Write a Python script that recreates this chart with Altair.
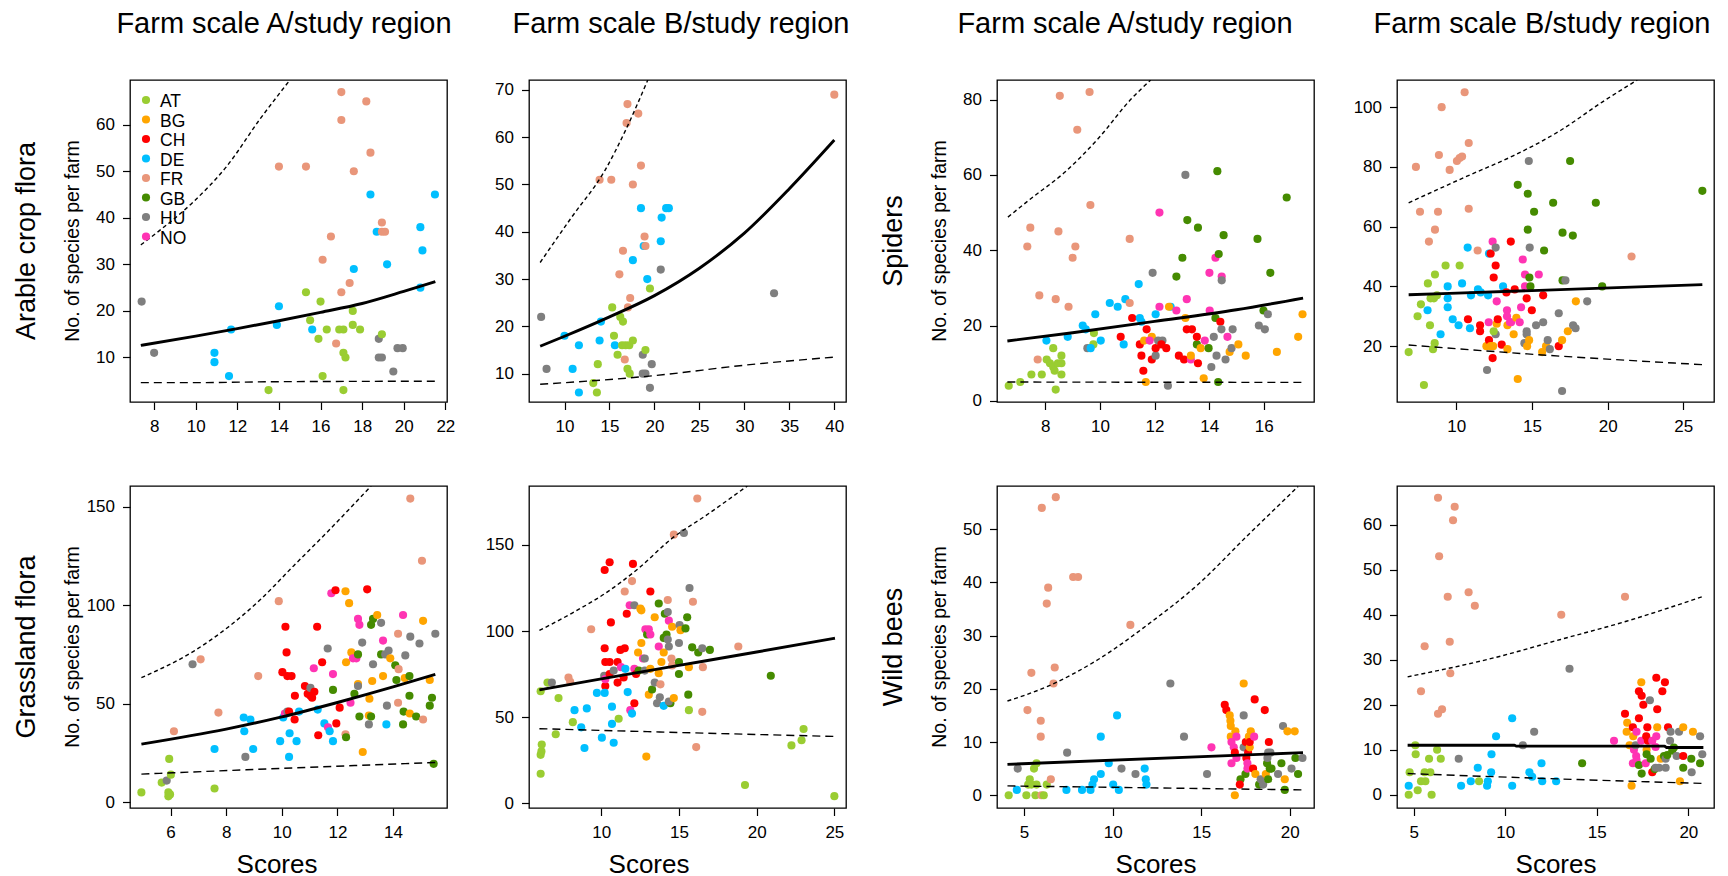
import altair as alt
import pandas as pd

COUNTRIES = ["AT", "BG", "CH", "DE", "FR", "GB", "HU", "NO"]
COLORS = ["#9ACD32", "#FFA500", "#FF0000", "#00BFFF", "#E9967A", "#458B00", "#7F7F7F", "#FF34B3"]

# ---------------- Arable crop flora, farm scale A ----------------
ARABLE_A_PTS = [
    ("HU", 7.4, 22), ("HU", 8.0, 11), ("DE", 10.9, 11), ("DE", 10.9, 9), ("DE", 11.6, 6), ("DE", 11.7, 16),
    ("AT", 13.5, 3), ("FR", 14.0, 51), ("DE", 13.9, 17), ("DE", 14.0, 21), ("FR", 15.3, 51), ("AT", 15.3, 24),
    ("AT", 15.5, 18), ("DE", 15.6, 16), ("AT", 15.9, 14), ("AT", 16.0, 22), ("FR", 16.1, 31), ("AT", 16.1, 6),
    ("AT", 16.3, 16), ("FR", 16.5, 36), ("FR", 16.75, 13), ("AT", 16.9, 16), ("AT", 17.1, 16), ("FR", 17.0, 67),
    ("FR", 17.0, 61), ("FR", 17.0, 24), ("AT", 17.1, 11), ("AT", 17.2, 10), ("AT", 17.1, 3), ("FR", 17.4, 26),
    ("AT", 17.55, 20), ("AT", 17.55, 17), ("DE", 17.6, 29), ("FR", 17.6, 50), ("AT", 17.9, 16), ("FR", 18.2, 65),
    ("FR", 18.4, 54), ("DE", 18.4, 45), ("DE", 18.7, 37), ("HU", 18.8, 14), ("HU", 18.8, 10), ("HU", 18.95, 10),
    ("FR", 18.95, 39), ("FR", 18.95, 37), ("FR", 19.1, 37), ("AT", 18.95, 15), ("DE", 19.2, 30), ("HU", 19.5, 7),
    ("HU", 19.7, 12), ("HU", 19.95, 12), ("DE", 20.8, 38), ("DE", 20.9, 33), ("DE", 20.8, 25), ("DE", 21.5, 45),
]
ARABLE_A_FIT = [(7.36, 12.6), (10, 14.6), (12, 16.2), (14, 17.9), (16, 19.7), (18, 21.6), (20, 24.2), (21.52, 26.3)]
ARABLE_A_UP = [(7.36, 34.2), (8.27, 37.3), (9.88, 43.4), (11.48, 51.0), (13.09, 61.2), (14.53, 69.6)]
ARABLE_A_LO = [(7.36, 4.6), (9.8, 4.6), (14, 4.8), (21.52, 4.9)]

# ---------------- Arable crop flora, farm scale B ----------------
ARABLE_B_PTS = [
    ("HU", 7.4, 22), ("HU", 8.0, 11), ("DE", 10.0, 18), ("DE", 10.9, 11), ("DE", 11.6, 16), ("DE", 11.6, 6),
    ("AT", 13.2, 8), ("AT", 13.6, 6), ("AT", 13.7, 12), ("FR", 13.9, 51), ("DE", 13.9, 17), ("DE", 14.05, 21),
    ("FR", 15.2, 51), ("AT", 15.3, 24), ("AT", 15.5, 18), ("DE", 15.6, 16), ("AT", 15.9, 14), ("AT", 16.2, 22),
    ("AT", 16.5, 21), ("FR", 16.1, 31), ("FR", 16.5, 36), ("AT", 16.4, 16), ("AT", 16.8, 16), ("AT", 17.2, 16),
    ("AT", 17.6, 17), ("FR", 16.7, 13), ("AT", 17.0, 11), ("AT", 17.25, 10), ("FR", 16.9, 63), ("FR", 17.0, 67),
    ("FR", 17.05, 24), ("FR", 17.3, 26), ("FR", 17.6, 50), ("DE", 17.6, 34), ("FR", 18.2, 65), ("FR", 18.5, 54),
    ("DE", 18.5, 45), ("DE", 18.8, 37), ("FR", 18.9, 39), ("FR", 19.0, 37), ("HU", 18.7, 14), ("HU", 18.7, 10),
    ("HU", 19.0, 10), ("AT", 19.0, 15), ("DE", 19.2, 30), ("AT", 19.5, 28), ("HU", 19.5, 7), ("HU", 19.7, 12),
    ("DE", 20.8, 43), ("DE", 20.7, 38), ("HU", 20.7, 32), ("DE", 21.3, 45), ("DE", 21.6, 45), ("HU", 33.3, 27),
    ("FR", 40.0, 69),
]
ARABLE_B_FIT = [(7.29, 15.8), (10, 17.9), (15, 22.0), (20, 26.5), (25, 32.3), (30, 39.7), (35, 49.1), (40, 59.4)]
ARABLE_B_UP = [(7.29, 33.5), (10.8, 43.1), (14.5, 53.0), (16.77, 61.4), (19.26, 72.1)]
ARABLE_B_LO = [(7.29, 7.75), (20.1, 9.6), (30.1, 11.8), (40, 13.5)]

# ---------------- Spiders, farm scale A ----------------
SPIDERS_A_PTS = [
    ("AT", 6.66, 4), ("AT", 7.08, 5), ("AT", 7.49, 7), ("AT", 7.87, 7), ("FR", 7.34, 41), ("FR", 7.45, 46),
    ("FR", 7.78, 28), ("FR", 7.72, 11), ("AT", 8.05, 11), ("AT", 8.17, 10), ("AT", 8.29, 14), ("AT", 8.29, 9),
    ("AT", 8.34, 8), ("AT", 8.38, 3), ("AT", 8.46, 10), ("AT", 8.59, 12), ("AT", 8.59, 7), ("AT", 8.59, 10),
    ("FR", 8.38, 27), ("FR", 8.53, 81), ("FR", 8.48, 45), ("FR", 8.85, 25), ("FR", 9.0, 38), ("FR", 9.1, 41),
    ("FR", 9.17, 72), ("FR", 9.62, 82), ("FR", 9.65, 52), ("DE", 8.04, 16), ("DE", 8.82, 17), ("DE", 9.37, 20),
    ("DE", 9.48, 19), ("AT", 9.78, 18), ("AT", 9.76, 15), ("DE", 9.83, 23), ("HU", 9.54, 14), ("DE", 9.66, 14),
    ("DE", 10.03, 16), ("DE", 10.36, 26), ("DE", 10.65, 25), ("DE", 10.93, 27), ("DE", 10.87, 15), ("FR", 11.09, 43),
    ("FR", 11.09, 26), ("CH", 10.76, 17), ("CH", 11.18, 22), ("DE", 11.42, 31), ("DE", 11.46, 22), ("DE", 11.52, 21),
    ("CH", 11.46, 15), ("CH", 11.52, 12), ("CH", 11.59, 8), ("CH", 11.71, 19), ("BG", 11.62, 16), ("BG", 11.68, 5),
    ("BG", 11.9, 17), ("NO", 11.82, 16), ("CH", 11.9, 11), ("HU", 11.93, 34), ("HU", 12.04, 12), ("DE", 12.04, 23),
    ("CH", 12.04, 14), ("HU", 12.13, 16), ("HU", 12.29, 16), ("CH", 12.25, 15), ("CH", 12.43, 14), ("NO", 12.18, 50),
    ("NO", 12.18, 25), ("HU", 12.49, 4), ("DE", 12.59, 25), ("BG", 12.53, 25), ("NO", 12.8, 24), ("HU", 13.13, 60),
    ("GB", 12.8, 33), ("GB", 13.02, 38), ("GB", 13.2, 48), ("NO", 13.18, 27), ("BG", 13.13, 22), ("CH", 12.89, 12),
    ("CH", 13.08, 11), ("CH", 13.18, 19), ("CH", 13.37, 19), ("NO", 13.33, 11), ("BG", 13.33, 12), ("GB", 13.59, 46),
    ("GB", 13.55, 15), ("CH", 13.55, 17), ("CH", 13.59, 10), ("BG", 13.69, 14), ("BG", 13.8, 6), ("NO", 13.84, 16),
    ("NO", 14.01, 34), ("NO", 14.02, 24), ("GB", 13.98, 14), ("HU", 14.08, 9), ("HU", 14.17, 17), ("GB", 14.23, 22),
    ("GB", 14.3, 61), ("NO", 14.23, 38), ("GB", 14.35, 39), ("GB", 14.33, 5), ("HU", 14.27, 12), ("CH", 14.41, 21),
    ("HU", 14.45, 19), ("NO", 14.46, 33), ("HU", 14.46, 32), ("GB", 14.53, 44), ("HU", 14.6, 11), ("NO", 14.67, 17),
    ("BG", 14.75, 13), ("HU", 14.82, 14), ("HU", 14.86, 19), ("BG", 15.07, 15), ("BG", 15.34, 12), ("GB", 15.77, 43),
    ("HU", 15.82, 20), ("HU", 16.04, 19), ("GB", 15.99, 24), ("HU", 16.15, 23), ("GB", 16.24, 34), ("BG", 16.48, 13),
    ("GB", 16.84, 54), ("BG", 17.26, 17), ("BG", 17.42, 23),
]
SPIDERS_A_FIT = [(6.61, 15.9), (9.0, 18.1), (12, 21.1), (15, 24.2), (17.44, 27.3)]
SPIDERS_A_UP = [(6.63, 48.8), (7.49, 53.8), (8.71, 60.7), (9.93, 69.6), (11.15, 80.2), (11.86, 85.2)]
SPIDERS_A_LO = [(6.61, 5.0), (17.44, 4.9)]

# ---------------- Spiders, farm scale B ----------------
SPIDERS_B_PTS = [
    ("AT", 6.85, 18), ("FR", 7.33, 80), ("AT", 7.44, 30), ("FR", 7.6, 65), ("AT", 7.66, 34), ("AT", 7.86, 7),
    ("AT", 8.12, 41), ("DE", 8.1, 32), ("FR", 8.19, 55), ("AT", 8.26, 27), ("AT", 8.3, 36), ("AT", 8.52, 36),
    ("AT", 8.46, 19), ("AT", 8.57, 21), ("AT", 8.59, 44), ("FR", 8.59, 59), ("AT", 8.72, 37), ("FR", 8.79, 65),
    ("FR", 8.85, 84), ("DE", 8.96, 24), ("FR", 9.03, 100), ("AT", 9.29, 47), ("DE", 9.43, 40), ("DE", 9.43, 36),
    ("DE", 9.43, 33), ("FR", 9.56, 79), ("DE", 9.76, 29), ("FR", 10.04, 82), ("FR", 10.22, 83), ("FR", 10.38, 83.5),
    ("AT", 10.22, 47), ("DE", 10.15, 27), ("DE", 10.38, 41), ("FR", 10.55, 105), ("FR", 10.82, 88), ("FR", 10.82, 66),
    ("DE", 10.75, 53), ("CH", 10.77, 29), ("DE", 10.97, 37), ("DE", 10.9, 26), ("CH", 11.57, 27), ("CH", 11.57, 25),
    ("DE", 11.43, 39), ("FR", 11.41, 52), ("DE", 11.61, 38), ("DE", 12.1, 37), ("DE", 12.16, 51), ("CH", 12.27, 51),
    ("BG", 11.99, 20), ("HU", 12.03, 12), ("CH", 12.16, 22), ("BG", 12.27, 20), ("BG", 12.43, 20), ("CH", 12.4, 16),
    ("NO", 12.14, 28), ("NO", 12.4, 55), ("HU", 12.6, 53), ("CH", 12.6, 47), ("CH", 12.47, 43), ("NO", 12.67, 35),
    ("HU", 12.6, 24), ("AT", 12.47, 25), ("BG", 12.67, 27.5), ("CH", 12.74, 29), ("CH", 13.0, 20.5), ("DE", 13.09, 40),
    ("BG", 13.38, 19), ("CH", 13.31, 38), ("NO", 13.35, 32), ("NO", 13.35, 30), ("BG", 13.38, 27), ("NO", 13.55, 28),
    ("CH", 13.6, 55), ("CH", 13.86, 39), ("NO", 13.62, 28), ("BG", 13.79, 24), ("BG", 13.97, 29.5), ("BG", 14.06, 9),
    ("GB", 14.06, 74), ("NO", 14.19, 28), ("NO", 14.28, 33), ("NO", 14.39, 49), ("NO", 14.54, 44), ("NO", 14.54, 40),
    ("CH", 14.65, 36), ("CH", 14.99, 32), ("HU", 14.5, 21), ("HU", 14.65, 25), ("HU", 14.65, 24), ("BG", 14.68, 20),
    ("BG", 14.81, 22), ("GB", 14.72, 71), ("GB", 14.72, 59), ("GB", 14.83, 43), ("GB", 14.9, 40), ("HU", 14.79, 82),
    ("HU", 14.85, 53), ("GB", 15.14, 65), ("HU", 15.27, 27), ("NO", 15.45, 44), ("HU", 15.74, 28), ("CH", 15.74, 37),
    ("BG", 15.67, 18), ("BG", 15.93, 20), ("HU", 16.04, 22), ("HU", 16.18, 19), ("GB", 15.8, 52), ("GB", 16.4, 68),
    ("CH", 16.77, 20), ("HU", 16.77, 31), ("BG", 16.99, 22), ("GB", 17.02, 58), ("GB", 17.02, 42), ("HU", 16.99, 5),
    ("HU", 17.21, 42), ("GB", 17.52, 82), ("GB", 17.7, 57), ("BG", 17.37, 25), ("HU", 17.72, 27), ("HU", 17.88, 26),
    ("BG", 17.9, 35), ("HU", 18.65, 35), ("GB", 19.22, 68), ("GB", 19.64, 40), ("FR", 21.58, 50), ("GB", 26.26, 72),
]
SPIDERS_B_FIT = [(6.85, 37.2), (15, 38.6), (26.26, 40.6)]
SPIDERS_B_UP = [(6.85, 68.0), (10.71, 76.9), (13.79, 83.8), (16.88, 92.2), (19.64, 101.7), (21.96, 109.1)]
SPIDERS_B_LO = [(6.85, 20.4), (14.68, 17.4), (26.26, 13.8)]

# ---------------- Grassland flora, farm scale A ----------------
GRASS_A_PTS = [
    ("AT", 4.95, 5), ("AT", 5.68, 10), ("HU", 5.86, 11), ("AT", 5.95, 22), ("AT", 5.92, 5), ("AT", 5.92, 3),
    ("AT", 5.98, 4), ("AT", 6.01, 14), ("FR", 6.12, 36), ("HU", 6.79, 70), ("FR", 7.08, 72.5), ("AT", 7.58, 7),
    ("DE", 7.58, 27), ("FR", 7.72, 45.5), ("DE", 8.63, 43), ("DE", 8.65, 36), ("DE", 8.87, 42), ("HU", 8.69, 23),
    ("DE", 8.97, 27), ("FR", 9.15, 64), ("FR", 9.89, 102), ("DE", 9.94, 31), ("CH", 10.02, 66), ("DE", 10.05, 43),
    ("NO", 10.11, 45), ("HU", 10.2, 46), ("CH", 10.13, 89), ("CH", 10.17, 76), ("CH", 10.2, 64), ("CH", 10.35, 64),
    ("CH", 10.26, 46), ("DE", 10.28, 35), ("DE", 10.26, 23), ("CH", 10.46, 42), ("CH", 10.47, 54), ("DE", 10.53, 31),
    ("DE", 10.62, 46), ("CH", 10.83, 59), ("CH", 10.93, 55), ("CH", 11.03, 54), ("HU", 11.03, 58), ("CH", 11.09, 53),
    ("CH", 11.17, 56), ("NO", 11.15, 68), ("CH", 11.27, 89), ("DE", 11.29, 47), ("CH", 11.31, 34), ("CH", 11.45, 71),
    ("DE", 11.53, 40), ("HU", 11.65, 78), ("NO", 11.66, 38), ("DE", 11.72, 36), ("NO", 11.78, 106), ("CH", 11.93, 107.5),
    ("NO", 11.84, 65), ("GB", 11.84, 57), ("DE", 11.84, 31), ("CH", 11.96, 40), ("CH", 12.08, 48), ("FR", 12.29, 34.5),
    ("GB", 12.31, 33), ("BG", 12.29, 107), ("BG", 12.42, 101), ("BG", 12.31, 71), ("BG", 12.5, 76), ("NO", 12.47, 50.5),
    ("NO", 12.56, 73), ("NO", 12.68, 73), ("GB", 12.61, 55), ("GB", 12.74, 75), ("NO", 12.74, 93), ("NO", 12.79, 90),
    ("BG", 12.74, 60), ("HU", 12.74, 59), ("GB", 12.79, 43.5), ("HU", 12.89, 81), ("BG", 12.91, 25.5), ("CH", 13.07, 108),
    ("BG", 13.15, 52.5), ("BG", 13.25, 61.5), ("HU", 13.13, 39.5), ("BG", 13.13, 44), ("GB", 13.21, 43.5), ("GB", 13.21, 90),
    ("GB", 13.28, 93), ("BG", 13.43, 95), ("HU", 13.28, 70), ("HU", 13.57, 91), ("GB", 13.57, 75), ("NO", 13.64, 82),
    ("BG", 13.64, 64), ("HU", 13.72, 75), ("HU", 13.84, 77), ("BG", 13.9, 73), ("HU", 13.78, 49), ("DE", 13.76, 39.5),
    ("GB", 14.08, 69.5), ("GB", 14.12, 62), ("FR", 14.18, 85.5), ("FR", 14.2, 67.5), ("FR", 14.18, 50.5), ("BG", 14.42, 63),
    ("HU", 14.44, 74.5), ("NO", 14.36, 95), ("GB", 14.38, 46), ("GB", 14.36, 39.5), ("GB", 14.59, 64), ("GB", 14.59, 54),
    ("BG", 14.6, 45), ("HU", 14.62, 84), ("FR", 14.62, 154), ("GB", 14.83, 43.5), ("HU", 14.95, 80.5), ("FR", 15.04, 122.5),
    ("BG", 15.08, 92), ("FR", 15.08, 42), ("BG", 15.32, 62), ("GB", 15.32, 49), ("GB", 15.4, 53), ("HU", 15.52, 85.5),
    ("GB", 15.46, 19.5),
]
GRASS_A_FIT = [(4.95, 29.5), (8, 37.1), (10, 43.3), (12, 50.6), (14, 58.5), (15.52, 64.9)]
GRASS_A_UP = [(4.95, 63.2), (6.84, 76.7), (8.04, 88.5), (9.23, 102.8), (10.43, 120.0), (11.63, 137.0), (13.21, 160.4)]
GRASS_A_LO = [(4.95, 14.3), (10, 17.2), (15.52, 20.2)]

# ---------------- Grassland flora, farm scale B ----------------
GRASS_B_PTS = [
    ("AT", 6.1, 17), ("AT", 6.1, 28), ("AT", 6.15, 30), ("AT", 6.17, 34), ("AT", 6.1, 65), ("AT", 6.54, 70),
    ("HU", 6.82, 70), ("AT", 7.07, 40), ("AT", 7.25, 61), ("FR", 7.89, 73), ("FR", 8.0, 70.5), ("AT", 8.17, 47),
    ("DE", 8.28, 54), ("DE", 8.71, 44), ("DE", 8.92, 32), ("DE", 9.07, 55), ("FR", 9.35, 101), ("DE", 9.72, 64),
    ("DE", 10.04, 38), ("HU", 10.19, 74), ("CH", 10.22, 135.5), ("CH", 10.22, 90), ("CH", 10.26, 82), ("CH", 10.26, 68),
    ("DE", 10.22, 64), ("NO", 10.26, 72), ("CH", 10.54, 140), ("CH", 10.62, 105), ("CH", 10.54, 82), ("CH", 10.54, 75),
    ("DE", 10.69, 56), ("DE", 10.69, 46), ("DE", 10.8, 35), ("HU", 10.8, 77), ("CH", 11.05, 70), ("CH", 11.05, 82),
    ("AT", 11.12, 49), ("NO", 11.27, 79), ("CH", 11.23, 89), ("CH", 11.51, 90), ("CH", 11.44, 73), ("CH", 11.64, 110),
    ("FR", 11.51, 123), ("DE", 11.55, 78), ("DE", 11.7, 64.5), ("NO", 11.87, 54), ("DE", 11.98, 52), ("NO", 11.83, 115),
    ("HU", 12.13, 115), ("FR", 11.98, 129), ("CH", 12.04, 139), ("CH", 12.13, 58), ("NO", 12.13, 78), ("CH", 12.24, 75),
    ("GB", 12.41, 77), ("BG", 12.37, 87.5), ("BG", 12.52, 113), ("BG", 12.58, 112), ("BG", 12.58, 93), ("NO", 12.69, 84),
    ("HU", 12.8, 84), ("NO", 12.84, 101), ("GB", 12.95, 98), ("NO", 13.06, 101), ("NO", 13.16, 98), ("HU", 12.8, 77),
    ("BG", 13.06, 63), ("BG", 12.9, 27), ("CH", 13.16, 123), ("GB", 13.27, 66), ("BG", 13.16, 78), ("HU", 13.44, 70),
    ("BG", 13.44, 108), ("HU", 13.59, 58), ("GB", 13.7, 116), ("NO", 13.7, 91), ("BG", 13.7, 75.5), ("HU", 13.77, 61.5),
    ("FR", 13.81, 69), ("BG", 13.87, 82), ("BG", 14.02, 87.5), ("GB", 14.02, 96), ("GB", 14.09, 110), ("GB", 14.2, 98),
    ("HU", 14.28, 111), ("NO", 14.35, 106), ("HU", 14.35, 91), ("HU", 14.28, 95), ("FR", 14.28, 118), ("DE", 14.02, 56.5),
    ("GB", 14.45, 58), ("HU", 14.35, 59), ("BG", 14.67, 61), ("FR", 14.52, 84), ("FR", 14.56, 80), ("BG", 14.56, 102.5),
    ("FR", 14.67, 156), ("GB", 15.0, 82), ("GB", 15.0, 75), ("HU", 15.0, 93), ("HU", 15.04, 103.5), ("BG", 15.1, 100.5),
    ("GB", 15.42, 101.5), ("HU", 15.32, 157), ("GB", 15.53, 108), ("BG", 15.64, 79), ("GB", 15.6, 63), ("AT", 15.64, 54),
    ("HU", 15.68, 125), ("GB", 15.85, 90.5), ("FR", 15.9, 117), ("FR", 16.11, 32.5), ("FR", 16.18, 177), ("GB", 16.24, 87.5),
    ("HU", 16.5, 90), ("FR", 16.5, 53), ("FR", 16.54, 79), ("GB", 16.99, 89), ("FR", 18.82, 91), ("AT", 19.25, 10.5),
    ("GB", 20.91, 74), ("AT", 22.24, 33.5), ("AT", 22.89, 36.5), ("AT", 23.02, 43), ("AT", 25.0, 4),
]
GRASS_B_FIT = [(6.02, 65.8), (10, 72.2), (15, 80.0), (20, 87.8), (25.04, 95.8)]
GRASS_B_UP = [(6.02, 100.3), (8.1, 110.3), (10.26, 121.9), (12.41, 136.5), (14.56, 153.9), (16.71, 167.0), (19.4, 184.3)]
GRASS_B_LO = [(6.02, 43.2), (15, 41.0), (25.04, 38.7)]

# ---------------- Wild bees, farm scale A ----------------
BEES_A_PTS = [
    ("AT", 4.13, 0), ("HU", 4.64, 5), ("DE", 4.59, 1), ("FR", 5.19, 16), ("FR", 5.41, 23), ("AT", 5.13, 0),
    ("AT", 5.23, 2), ("AT", 5.32, 3), ("AT", 5.41, 2), ("AT", 5.56, 5), ("AT", 5.64, 0), ("AT", 5.7, 6),
    ("AT", 5.7, 2), ("FR", 5.94, 14), ("FR", 5.94, 11), ("FR", 5.98, 0), ("FR", 6.0, 54), ("AT", 6.11, 0),
    ("AT", 6.28, 2), ("FR", 6.28, 36), ("FR", 6.36, 39), ("FR", 6.51, 3), ("FR", 6.66, 21), ("FR", 6.73, 24),
    ("FR", 6.79, 56), ("HU", 7.43, 8), ("DE", 7.39, 1), ("FR", 7.77, 41), ("FR", 8.05, 41), ("DE", 8.27, 1),
    ("DE", 8.75, 1), ("DE", 8.86, 2), ("DE", 8.95, 3), ("DE", 9.33, 4), ("DE", 9.33, 11), ("DE", 9.78, 6),
    ("DE", 10.03, 2), ("DE", 10.25, 15), ("DE", 10.35, 1), ("HU", 10.5, 5), ("FR", 11.0, 32), ("HU", 11.29, 4),
    ("DE", 11.81, 5), ("DE", 11.87, 3), ("DE", 11.91, 2), ("HU", 13.26, 21), ("HU", 14.03, 11), ("HU", 15.33, 4),
    ("NO", 15.58, 9), ("CH", 16.33, 17), ("CH", 16.42, 16), ("BG", 16.61, 15), ("BG", 16.65, 14), ("BG", 16.67, 13),
    ("BG", 16.67, 11), ("NO", 16.71, 10), ("NO", 16.71, 6), ("NO", 16.84, 9), ("CH", 16.9, 8), ("BG", 16.9, 0),
    ("BG", 16.93, 12), ("NO", 16.99, 11), ("NO", 16.99, 7), ("GB", 17.22, 3), ("CH", 17.18, 2), ("HU", 17.4, 15),
    ("BG", 17.4, 21), ("HU", 17.4, 9), ("GB", 17.5, 4), ("CH", 17.52, 10), ("CH", 17.55, 7), ("NO", 17.61, 6),
    ("NO", 17.61, 5), ("CH", 17.65, 8), ("BG", 17.69, 11), ("BG", 17.74, 9), ("CH", 17.74, 10), ("BG", 17.8, 12),
    ("CH", 17.93, 5), ("NO", 17.99, 11), ("CH", 18.02, 18), ("BG", 18.06, 4), ("GB", 18.27, 2), ("HU", 18.36, 3),
    ("HU", 18.5, 2), ("CH", 18.59, 16), ("BG", 18.65, 4), ("GB", 18.72, 6), ("HU", 18.74, 7), ("HU", 18.78, 8),
    ("GB", 18.78, 3), ("GB", 18.87, 5), ("CH", 18.82, 10), ("GB", 18.97, 5), ("HU", 18.91, 8), ("HU", 19.34, 4),
    ("GB", 19.53, 6), ("HU", 19.62, 13), ("BG", 19.72, 3), ("GB", 19.72, 1), ("BG", 19.87, 12), ("BG", 20.28, 12),
    ("HU", 20.1, 5), ("GB", 20.32, 7), ("GB", 20.47, 4), ("HU", 20.72, 7),
]
BEES_A_FIT = [(4.06, 5.8), (20.75, 8.0)]
BEES_A_UP = [(4.06, 17.7), (6.36, 20.5), (9.18, 25.5), (12.0, 32.1), (14.82, 39.6), (17.65, 48.9), (20.47, 58.0)]
BEES_A_LO = [(4.06, 1.75), (20.75, 1.0)]

# ---------------- Wild bees, farm scale B ----------------
BEES_B_PTS = [
    ("AT", 4.73, 0), ("DE", 4.73, 2), ("AT", 4.78, 5), ("AT", 5.09, 11), ("AT", 5.11, 9), ("AT", 5.22, 1),
    ("FR", 5.4, 23), ("AT", 5.4, 3), ("AT", 5.6, 5), ("AT", 5.64, 3), ("FR", 5.6, 33), ("AT", 5.84, 8),
    ("AT", 5.91, 5), ("AT", 5.98, 0), ("AT", 6.28, 10), ("AT", 6.48, 8), ("FR", 6.33, 66), ("FR", 6.39, 53),
    ("FR", 6.33, 18), ("FR", 6.55, 19), ("FR", 6.86, 44), ("FR", 6.97, 34), ("FR", 7.0, 27), ("FR", 7.15, 61),
    ("FR", 7.24, 64), ("HU", 7.46, 8), ("DE", 7.59, 2), ("DE", 8.12, 3), ("FR", 8.0, 45), ("FR", 8.34, 42),
    ("AT", 8.57, 3), ("DE", 8.5, 6), ("DE", 9.01, 2), ("DE", 9.05, 3), ("DE", 9.23, 5), ("DE", 9.25, 9),
    ("DE", 9.5, 13), ("DE", 10.38, 17), ("DE", 10.38, 2), ("HU", 10.96, 11), ("DE", 11.32, 5), ("DE", 11.47, 4),
    ("HU", 11.58, 14), ("DE", 11.98, 7), ("DE", 12.02, 3), ("DE", 12.78, 3), ("FR", 13.06, 40), ("HU", 13.51, 28),
    ("GB", 14.2, 7), ("NO", 15.94, 12), ("FR", 16.54, 44), ("CH", 16.54, 18), ("BG", 16.66, 16), ("BG", 16.63, 14),
    ("BG", 16.79, 11), ("CH", 16.97, 15), ("BG", 16.99, 13), ("NO", 16.97, 7), ("BG", 16.9, 2), ("NO", 17.03, 10),
    ("NO", 17.15, 8.6), ("NO", 17.17, 7.7), ("NO", 17.17, 14), ("HU", 17.12, 11), ("CH", 17.3, 23), ("CH", 17.3, 17),
    ("GB", 17.3, 6.6), ("BG", 17.43, 25), ("CH", 17.45, 22), ("NO", 17.43, 12), ("GB", 17.45, 4.7), ("CH", 17.54, 20),
    ("NO", 17.67, 7), ("CH", 17.7, 13), ("CH", 17.76, 15), ("BG", 17.72, 10), ("GB", 17.72, 9), ("CH", 17.79, 12),
    ("GB", 17.94, 8), ("HU", 17.9, 21), ("CH", 18.03, 5), ("NO", 18.03, 12), ("GB", 18.16, 5.7), ("HU", 18.21, 6),
    ("NO", 18.25, 13), ("CH", 18.25, 26), ("NO", 18.21, 10.6), ("CH", 18.3, 19), ("BG", 18.3, 15), ("HU", 18.4, 6),
    ("BG", 18.49, 8), ("CH", 18.58, 23), ("GB", 18.67, 8.6), ("CH", 18.72, 25), ("HU", 18.76, 8), ("HU", 18.76, 6),
    ("GB", 18.85, 8.8), ("CH", 18.89, 15), ("HU", 19.0, 12), ("HU", 19.03, 14), ("GB", 19.12, 9.8), ("GB", 19.21, 10.5),
    ("HU", 19.36, 8.6), ("HU", 19.49, 14), ("BG", 19.54, 3), ("CH", 19.72, 8.6), ("GB", 19.72, 6), ("BG", 19.72, 15),
    ("GB", 20.16, 8), ("HU", 20.18, 5), ("BG", 20.25, 14), ("HU", 20.64, 13), ("GB", 20.64, 7), ("HU", 20.76, 9),
]
BEES_B_FIT = [(4.67, 11.0), (10.5, 11.0), (10.6, 10.8), (18.7, 10.8), (18.8, 10.5), (20.82, 10.5)]
BEES_B_UP = [(4.67, 26.2), (9.37, 30.4), (13.02, 34.5), (16.66, 38.6), (20.76, 44.0)]
BEES_B_LO = [(4.67, 4.7), (13, 3.5), (20.82, 2.5)]

# tick values and axis ranges
TICKS = {
    "arable_a": ([8, 10, 12, 14, 16, 18, 20, 22], [10, 20, 30, 40, 50, 60]),
    "arable_b": ([10, 15, 20, 25, 30, 35, 40], [10, 20, 30, 40, 50, 60, 70]),
    "spiders_a": ([8, 10, 12, 14, 16], [0, 20, 40, 60, 80]),
    "spiders_b": ([10, 15, 20, 25], [20, 40, 60, 80, 100]),
    "grass_a": ([6, 8, 10, 12, 14], [0, 50, 100, 150]),
    "grass_b": ([10, 15, 20, 25], [0, 50, 100, 150]),
    "bees_a": ([5, 10, 15, 20], [0, 10, 20, 30, 40, 50]),
    "bees_b": ([5, 10, 15, 20], [0, 10, 20, 30, 40, 50, 60]),
}
DOMAINS = {
    "arable_a": ([6.84, 22.08], [0.44, 69.6]),
    "arable_b": ([6.05, 41.3], [4.0, 72.1]),
    "spiders_a": ([6.23, 17.84], [-0.3, 85.2]),
    "spiders_b": ([6.08, 27.03], [1.3, 109.1]),
    "grass_a": ([4.54, 15.94], [-2.9, 160.4]),
    "grass_b": ([5.35, 25.75], [-2.9, 184.3]),
    "bees_a": ([3.47, 21.37], [-2.4, 58.1]),
    "bees_b": ([4.09, 21.4], [-2.95, 68.6]),
}

FONT = "Liberation Sans"
W, H = 317, 322
R_EXTRA = 10
DOT = 66


def pts_df(pts):
    return pd.DataFrame(pts, columns=["country", "score", "species"])


def line_df(pts):
    return pd.DataFrame(pts, columns=["score", "species"])


ONE = pd.DataFrame({"k": [0]})


def text_layer(txt, x, y, size, angle=0, align="center", baseline="middle"):
    kw = dict(font=FONT, fontSize=size, align=align, baseline=baseline, color="black")
    if angle:
        kw["angle"] = angle
    return alt.Chart(ONE).mark_text(**kw).encode(
        x=alt.value(x), y=alt.value(y), text=alt.value(txt))


def panel(key, pts, fit, up, lo, L, T, B, title=None, title_dx=None, row_label=None,
          scores_dx=None, legend=False):
    xt, yt = TICKS[key]
    xd, yd = DOMAINS[key]
    xs = alt.Scale(domain=xd, nice=False, zero=False)
    ys = alt.Scale(domain=yd, nice=False, zero=False)
    xax = alt.Axis(values=xt, title=None, labelPadding=9, format="d")
    yax = alt.Axis(values=yt, title=None, labelPadding=8, format="d")
    X = alt.X("score:Q", scale=xs, axis=xax)
    Y = alt.Y("species:Q", scale=ys, axis=yax)

    layers = []
    layers.append(alt.Chart(ONE).mark_rule(stroke="white", strokeOpacity=0, strokeWidth=1).encode(
        x=alt.value(-L), x2=alt.value(W + R_EXTRA), y=alt.value(-T), y2=alt.value(H + B)))
    layers.append(alt.Chart(pts_df(pts)).mark_circle(size=DOT, opacity=1).encode(
        x=X, y=Y,
        color=alt.Color("country:N", scale=alt.Scale(domain=COUNTRIES, range=COLORS), legend=None)))
    layers.append(alt.Chart(line_df(lo)).mark_line(color="black", strokeWidth=1.4, strokeDash=[8, 5],
                                                   clip=True, interpolate="monotone").encode(x=X, y=Y))
    layers.append(alt.Chart(line_df(up)).mark_line(color="black", strokeWidth=1.4, strokeDash=[4, 3],
                                                   clip=True, interpolate="monotone").encode(x=X, y=Y))
    layers.append(alt.Chart(line_df(fit)).mark_line(color="black", strokeWidth=2.9,
                                                    clip=True, interpolate="monotone").encode(x=X, y=Y))
    if title:
        layers.append(text_layer(title, title_dx, -47, 29, baseline="alphabetic"))
    if row_label:
        layers.append(text_layer(row_label, -103, H / 2, 27, angle=270))
        layers.append(text_layer("No. of species per farm", -57, H / 2, 19.5, angle=270))
    if scores_dx is not None:
        layers.append(text_layer("Scores", scores_dx, H + 57, 26))
    if legend:
        for i, c in enumerate(COUNTRIES):
            yy = 20 + 19.5 * i
            layers.append(alt.Chart(ONE).mark_circle(size=DOT, opacity=1, color=COLORS[i]).encode(
                x=alt.value(16), y=alt.value(yy)))
            layers.append(text_layer(c, 30, yy + 2, 17.5, align="left"))
    return alt.layer(*layers).properties(width=W, height=H)


p1 = panel("arable_a", ARABLE_A_PTS, ARABLE_A_FIT, ARABLE_A_UP, ARABLE_A_LO, 129, 79, 40,
           title="Farm scale A/study region", title_dx=154, row_label="Arable crop flora", legend=True)
p2 = panel("arable_b", ARABLE_B_PTS, ARABLE_B_FIT, ARABLE_B_UP, ARABLE_B_LO, 60, 79, 40,
           title="Farm scale B/study region", title_dx=152)
p3 = panel("spiders_a", SPIDERS_A_PTS, SPIDERS_A_FIT, SPIDERS_A_UP, SPIDERS_A_LO, 129, 79, 40,
           title="Farm scale A/study region", title_dx=128, row_label="Spiders")
p4 = panel("spiders_b", SPIDERS_B_PTS, SPIDERS_B_FIT, SPIDERS_B_UP, SPIDERS_B_LO, 61, 79, 40,
           title="Farm scale B/study region", title_dx=145)
p5 = panel("grass_a", GRASS_A_PTS, GRASS_A_FIT, GRASS_A_UP, GRASS_A_LO, 129, 32, 75,
           row_label="Grassland flora", scores_dx=147)
p6 = panel("grass_b", GRASS_B_PTS, GRASS_B_FIT, GRASS_B_UP, GRASS_B_LO, 60, 32, 75, scores_dx=120)
p7 = panel("bees_a", BEES_A_PTS, BEES_A_FIT, BEES_A_UP, BEES_A_LO, 129, 32, 75,
           row_label="Wild bees", scores_dx=159)
p8 = panel("bees_b", BEES_B_PTS, BEES_B_FIT, BEES_B_UP, BEES_B_LO, 61, 32, 75, scores_dx=159)

row1 = alt.hconcat(p1, p2, p3, p4, spacing=10)
row2 = alt.hconcat(p5, p6, p7, p8, spacing=10)

chart = alt.vconcat(row1, row2, spacing=10).properties(
    padding=0, background="white"
).configure_view(
    stroke="black", strokeWidth=1.3
).configure_axis(
    domain=False, grid=False, ticks=True, tickSize=7.5, tickWidth=1.2, tickColor="black",
    labelFont=FONT, labelFontSize=17, labelColor="black", labelOverlap=False, labelFlush=False,
)

chart.save("out.html", embed_options={"renderer": "svg", "actions": False})
